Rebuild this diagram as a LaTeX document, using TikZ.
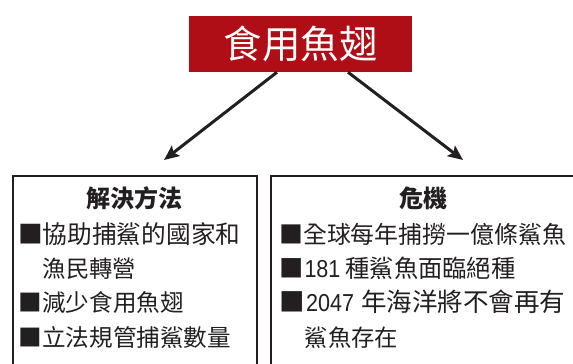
\documentclass[tikz,border=0pt]{standalone}
\usepackage{fontspec}
\usepackage{graphicx}
\newfontfamily\cjk{Noto Sans CJK TC}
\newfontfamily\latin{Liberation Sans}
\usetikzlibrary{arrows.meta}
\definecolor{headred}{RGB}{176,14,22}
\definecolor{ink}{RGB}{35,31,32}
\newcommand{\fs}[1]{\fontsize{#1}{30}\selectfont}
\newcommand{\digits}[1]{\scalebox{0.88}[1]{\latin\fontsize{24.5}{30}\selectfont #1}}
\tikzset{
  panel/.style={draw=ink, line width=2pt, anchor=north west, inner sep=0pt},
  arr/.style={draw=ink, line width=3pt, -{Stealth[length=15pt,width=13pt,inset=3pt]}},
  item/.style={anchor=base west, inner sep=0pt, text=ink, font=\cjk\fs{23.6}},
  heading/.style={anchor=base, inner sep=0pt, text=ink, font=\cjk\bfseries\fs{24}},
}
\begin{document}
\begin{tikzpicture}[x=1pt,y=-1pt]
\useasboundingbox (0,0) rectangle (573,364);
\clip (0,0) rectangle (573,364);
\node[fill=headred, minimum width=223pt, minimum height=56pt, inner sep=0pt, text=white, font=\cjk\fs{38.5}] (top) at (300.5,44) {食用魚翅};
\node[panel, minimum width=244pt, minimum height=220pt] (left) at (12,175) {};
\node[panel, minimum width=306pt, minimum height=220pt] (right) at (270,175) {};
\draw[arr] ([xshift=-23.5pt]top.south) -- ([xshift=29pt,yshift=15pt]left.north);
\draw[arr] ([xshift=47.5pt]top.south) -- ([xshift=39pt,yshift=15pt]right.north);
% left panel
\node[heading] (lt) at (134,207) {解決方法};
\node[item, font=\cjk\fs{24.7}] (l1) at (18,243) {■協助捕鯊的國家和};
\node[item, font=\cjk\fs{23.3}] (l2) at (42.5,277) {漁民轉營};
\node[item] (l3) at (18.5,311) {■減少食用魚翅};
\node[item] (l4) at (18.5,346) {■立法規管捕鯊數量};
% right panel
\node[heading] (rt) at (423,207) {危機};
\node[item, font=\cjk\fs{23.9}] (r1) at (279,243) {■全球每年捕撈一億條鯊魚};
\node[item, font=\cjk\fs{24.3}] (r2) at (279,277) {■\hspace{1pt}\digits{181}\hspace{5pt}種鯊魚面臨絕種};
\node[item, font=\cjk\fs{25.5}] (r3) at (279,311) {■\hspace{1.5pt}\digits{2047}\hspace{7pt}年海洋將不會再有};
\node[item, font=\cjk\fs{23.3}] (r4) at (304.5,346) {鯊魚存在};
\end{tikzpicture}
\end{document}
